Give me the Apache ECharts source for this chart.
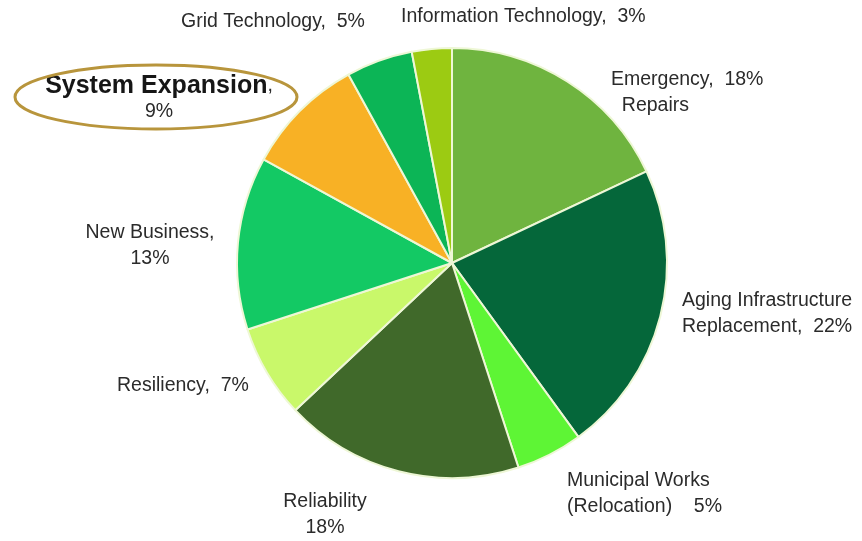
<!DOCTYPE html>
<html>
<head>
<meta charset="utf-8">
<script src="https://cdn.jsdelivr.net/npm/echarts@6/dist/echarts.min.js"></script>
<style>html,body{margin:0;padding:0;background:#fff}#c{width:862px;height:541px}</style>
</head>
<body>
<div id="c"></div>
<script>
// Data
const categories = ["Emergency Repairs", "Aging Infrastructure Replacement", "Municipal Works (Relocation)", "Reliability", "Resiliency", "New Business", "System Expansion", "Grid Technology", "Information Technology"];
const values = [18, 22, 5, 18, 7, 13, 9, 5, 3];
const labelTexts = [
  "Emergency,  18%\n  Repairs",
  "Aging Infrastructure\nReplacement,  22%",
  "Municipal Works\n(Relocation)    5%",
  "Reliability\n18%",
  "Resiliency,  7%",
  "New Business,\n13%",
  "{b|System Expansion},\n9%",
  "Grid Technology,  5%",
  "Information Technology,  3%"
];
// styles / positions
const colors = ["#6fb43f", "#05673a", "#5ef535", "#40692a", "#c9f86a", "#13c964", "#f8b125", "#0cb556", "#9ccb12"];
const labelPos = [
  [611, 93, "left"],
  [682, 314, "left"],
  [567, 494, "left"],
  [325, 515, "center"],
  [117, 386, "left"],
  [150, 246, "center"],
  [159, 99, "center"],
  [181, 22, "left"],
  [401, 17, "left"]
];

const chart = echarts.init(document.getElementById('c'), null, {renderer: 'canvas'});
chart.setOption({
  animation: false,
  backgroundColor: '#ffffff',
  graphic: [{
    type: 'ellipse',
    shape: {cx: 156, cy: 97, rx: 141, ry: 32},
    style: {fill: 'none', stroke: '#b8953c', lineWidth: 3},
    z: 10
  }],
  series: [{
    type: 'pie',
    center: [452, 263],
    radius: 215,
    startAngle: 90,
    clockwise: true,
    itemStyle: {borderColor: '#eef7d6', borderWidth: 2},
    label: {
      show: true,
      formatter: p => labelTexts[p.dataIndex],
      fontFamily: 'Liberation Sans, Arial, sans-serif',
      fontSize: 19.5,
      color: '#2b2b2b',
      lineHeight: 26,
      overflow: 'none',
      width: 400,
      rich: {
        b: {fontFamily: 'Liberation Sans, Arial, sans-serif', fontSize: 25, fontWeight: 'bold', color: '#161616', lineHeight: 26}
      }
    },
    labelLine: {show: false},
    labelLayout: p => ({
      x: labelPos[p.dataIndex][0],
      y: labelPos[p.dataIndex][1],
      align: labelPos[p.dataIndex][2],
      verticalAlign: 'middle'
    }),
    data: categories.map((c, i) => ({name: c, value: values[i], itemStyle: {color: colors[i]}}))
  }]
});
</script>
</body>
</html>
